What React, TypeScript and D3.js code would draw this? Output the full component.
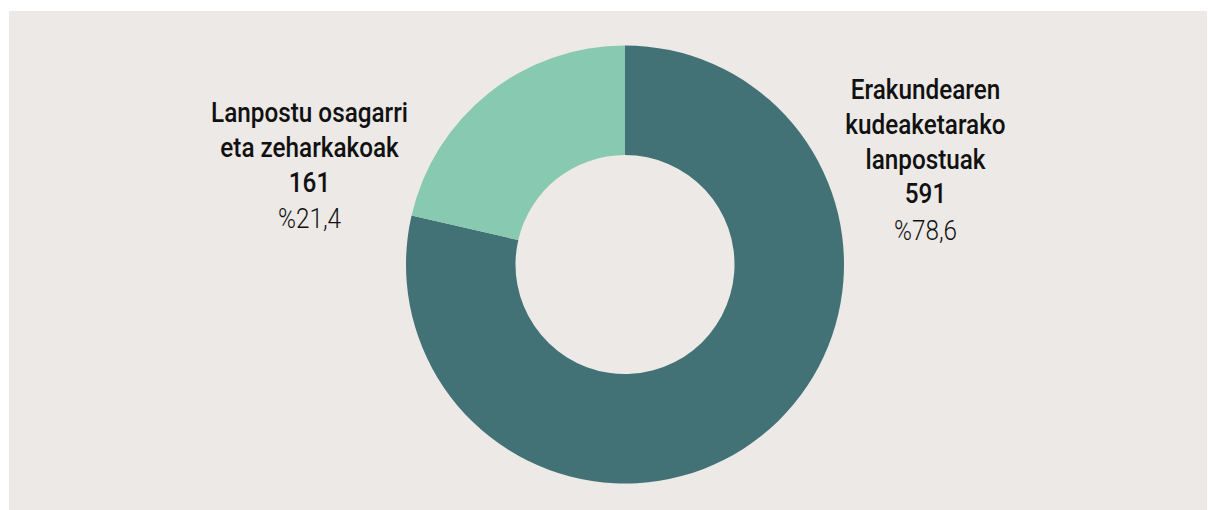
import React from "react";
import * as d3 from "d3";

const categories = ["Erakundearen kudeaketarako lanpostuak", "Lanpostu osagarri eta zeharkakoak"];
const labelLines = [
  ["Erakundearen", "kudeaketarako", "lanpostuak"],
  ["Lanpostu osagarri", "eta zeharkakoak"],
];
const values = [591, 161];
const percents = ["%78,6", "%21,4"];
const colors = ["#427176", "#88c9b1"];

const W = 1208;
const H = 510;

export default function App() {
  const cx = 625;
  const cy = 264.5;
  const outerR = 219;
  const innerR = 109.5;

  const pie = d3.pie<number>().sort(null).value((d) => d);
  const arcs = pie(values);
  const arcGen = d3.arc<d3.PieArcDatum<number>>().innerRadius(innerR).outerRadius(outerR);

  const labelPos = [
    { x: 925.5, y: 99.5 },
    { x: 309.5, y: 122.5 },
  ];
  const lineH = 34.6;
  const fs = 27;

  return (
    <svg
      width={W}
      height={H}
      style={{ position: "absolute", left: 0, top: 0 }}
      fontFamily="Roboto, 'Noto Sans', sans-serif"
    >
      <rect x={0} y={0} width={W} height={H} fill="#ffffff" />
      <rect x={9} y={11} width={W - 10} height={H - 11} fill="#ece9e6" />
      <g transform={`translate(${cx},${cy})`}>
        {arcs.map((a, i) => (
          <path key={categories[i]} d={arcGen(a) || ""} fill={colors[i]} />
        ))}
      </g>
      {labelLines.map((lines, i) => {
        const p = labelPos[i];
        return (
          <g key={categories[i]} transform={`translate(${p.x},0) scale(0.9,1)`}>
            {lines.map((t, j) => (
              <text
                key={j}
                x={0}
                y={p.y + j * lineH}
                textAnchor="middle"
                fontSize={fs}
                fontWeight={500}
                fill="#111111"
              >
                {t}
              </text>
            ))}
            <text
              x={0}
              y={p.y + lines.length * lineH}
              textAnchor="middle"
              fontSize={fs}
              fontWeight={500}
              fill="#111111"
            >
              {values[i]}
            </text>
            <text
              x={0}
              y={p.y + lines.length * lineH + lineH + 2}
              textAnchor="middle"
              fontSize={fs}
              fontWeight={300}
              fill="#111111"
            >
              {percents[i]}
            </text>
          </g>
        );
      })}
    </svg>
  );
}
